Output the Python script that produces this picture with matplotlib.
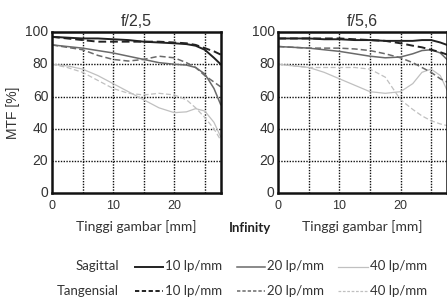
import matplotlib
matplotlib.use("Agg")
import matplotlib.pyplot as plt
from matplotlib.lines import Line2D

# Image height positions (mm)
x_pos = [0, 2.5, 5, 7.5, 10, 12.5, 15, 17.5, 20, 22, 23.5, 25, 26.5, 27.6]

# f/2,5
f25_s10 = [97, 96.5, 96, 96, 95.5, 95, 94, 93.5, 93, 92.5, 91.5, 89, 84, 80]
f25_t10 = [97, 96, 95, 94, 94, 94, 94, 94, 93.5, 93, 92, 90, 88, 86]
f25_s20 = [92, 91, 90, 88.5, 87, 85, 83, 81, 80, 79.5, 78, 74, 65, 55]
f25_t20 = [92, 90.5, 89, 85.5, 83, 82, 83, 85, 84, 81, 78, 73, 69, 66]
f25_s40 = [80, 79, 77, 73, 68, 63, 58, 53, 50, 50.5, 52.5, 51, 44, 35]
f25_t40 = [80, 78, 75, 70, 65, 62, 61, 62, 61, 58, 53, 47, 40, 33]

# f/5,6
f56_s10 = [96, 96, 96, 95.5, 95.5, 95, 95, 94.5, 94.5, 94.5, 95, 95, 93.5, 92]
f56_t10 = [96, 96, 96, 96, 96, 95.5, 95, 94.5, 93, 91.5, 90.5, 89, 87.5, 86]
f56_s20 = [91, 90.5, 90, 89, 88, 86.5, 85, 84, 84.5, 86.5, 88.5, 89, 87, 83]
f56_t20 = [91, 90.5, 90, 90, 90, 89.5, 88.5, 86.5, 84, 81, 78, 75, 71, 69]
f56_s40 = [80, 79, 78, 75, 71, 67, 63, 62, 63, 68, 75, 77, 73, 64]
f56_t40 = [80, 79, 78, 78, 78, 78, 77, 72, 58, 52, 48, 45, 43, 42]

titles = ["f/2,5", "f/5,6"]
x_ticks = [0, 10, 20]
y_ticks = [0, 20, 40, 60, 80, 100]
freq_labels = ["10 lp/mm", "20 lp/mm", "40 lp/mm"]

colors = ["#222222", "#6a6a6a", "#c0c0c0"]
widths = [1.4, 1.1, 0.9]

fig = plt.figure(figsize=(4.47, 2.98), dpi=100)
axes = [fig.add_axes([0.1163, 0.3513, 0.3774, 0.5413]),
        fig.add_axes([0.6226, 0.3513, 0.3774, 0.5413])]

data = [
    [(f25_s10, f25_t10), (f25_s20, f25_t20), (f25_s40, f25_t40)],
    [(f56_s10, f56_t10), (f56_s20, f56_t20), (f56_s40, f56_t40)],
]

tick_font = "Liberation Sans"
lab_font = "Lato"
for ax, title, dset in zip(axes, titles, data):
    ax.set_xlim(0, 27.6)
    ax.set_ylim(0, 100)
    ax.set_xticks([5, 10, 15, 20, 25], minor=False)
    ax.set_yticks([20, 40, 60, 80], minor=False)
    ax.grid(True, color="#111111", linestyle=(0, (1, 1)), linewidth=1.0)
    ax.tick_params(length=0, labelleft=False, labelbottom=False)
    for i, (s, t) in enumerate(reversed(dset)):
        k = 2 - i
        ax.plot(x_pos, t, color=colors[k], lw=widths[k], ls=(0, (4, 2)))
        ax.plot(x_pos, s, color=colors[k], lw=widths[k], ls="-")
    for sp in ax.spines.values():
        sp.set_linewidth(1.8)
        sp.set_color("#111111")
    for v in x_ticks:
        ax.text(v, -4, str(v), ha="center", va="top", fontsize=9,
                family=tick_font, color="#333333", transform=ax.transData,
                clip_on=False)
    for v in y_ticks:
        ax.text(-0.6, v, str(v), ha="right", va="center", fontsize=10,
                family=tick_font, color="#333333", transform=ax.transData,
                clip_on=False)
    ax.set_title(title, fontsize=11.5, family=tick_font, color="#333333", pad=4)
    ax.set_xlabel("Tinggi gambar [mm]", fontsize=10, family=lab_font,
                  color="#333333", labelpad=19)

axes[0].set_ylabel("MTF [%]", fontsize=10, family=tick_font, color="#333333",
                   labelpad=23)
fig.text(250 / 447, 1 - 228 / 298, "Infinity", fontsize=9.5, family=lab_font,
         weight="bold", ha="center", va="center", color="#222222")

# Legend
row_y = [1 - 266.5 / 298, 1 - 291 / 298]
row_names = ["Sagittal", "Tangensial"]
line_x = [(135, 163), (237, 265), (338, 368)]
for r, (yy, name) in enumerate(zip(row_y, row_names)):
    fig.text(119 / 447, yy, name, fontsize=9.5, family=lab_font, ha="right",
             va="center", color="#333333")
    for k, (x0, x1) in enumerate(line_x):
        ls = "-" if r == 0 else (0, (2.2, 1.3))
        fig.add_artist(Line2D([x0 / 447, x1 / 447], [yy, yy], color=colors[k],
                              lw=widths[k], ls=ls, transform=fig.transFigure))
        fig.text((x1 + 2) / 447, yy, freq_labels[k], fontsize=9.5, family=lab_font,
                 ha="left", va="center", color="#333333")

fig.savefig("out.png", dpi=100)
